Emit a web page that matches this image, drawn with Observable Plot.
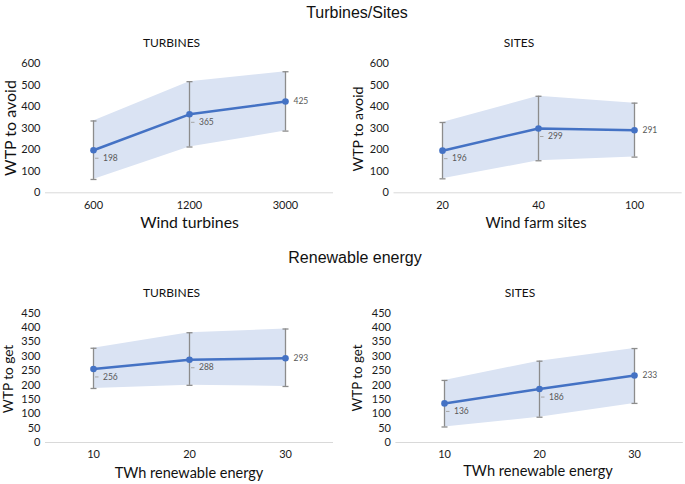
<!DOCTYPE html>
<html>
<head>
<meta charset="utf-8">
<script src="https://cdn.jsdelivr.net/npm/d3@7"></script>
<script src="https://cdn.jsdelivr.net/npm/@observablehq/plot@0.6"></script>
<style>
  html, body { margin: 0; padding: 0; background: #fff; }
  #root { position: relative; width: 685px; height: 484px; overflow: hidden; background: #fff; }
  .t { position: absolute; white-space: nowrap; line-height: 1; transform: translate(-50%, -50%); }
  .main { font-family: "Liberation Sans", Arial, sans-serif; font-size: 16px; color: #111; }
  .sub { font-family: Lato, sans-serif; font-size: 12px; color: #111; }
  .ax { font-family: Lato, sans-serif; color: #111; }
  .rot { transform: translate(-50%, -50%) rotate(-90deg); }
  .panel { position: absolute; }
</style>
</head>
<body>
<div id="root"></div>
<script>
// ---- Data ----
const turbCats = ["600", "1200", "3000"];
const turbMean = [198, 365, 425];
const turbLo = [62, 213, 287];
const turbHi = [334, 517, 563];

const sitesCats = ["20", "40", "100"];
const sitesMean = [196, 299, 291];
const sitesLo = [65, 149, 166];
const sitesHi = [327, 449, 417];

const reCats = ["10", "20", "30"];
const reTurbMean = [256, 288, 293];
const reTurbLo = [188, 199, 195];
const reTurbHi = [328, 382, 395];

const reSitesMean = [136, 186, 233];
const reSitesLo = [54, 88, 136];
const reSitesHi = [216, 283, 327];

const avoidTicks = [0, 100, 200, 300, 400, 500, 600];
const getTicks = [0, 50, 100, 150, 200, 250, 300, 350, 400, 450];

const root = document.getElementById("root");

// custom symbols: error-bar cap and label leader
const capSymbol = {draw(ctx) { ctx.moveTo(-3, 0); ctx.lineTo(3, 0); }};
const leaderSymbol = {draw(ctx) { ctx.moveTo(1.5, 0); ctx.lineTo(5, 0); }};

function addText(cls, txt, x, y, size) {
  const d = document.createElement("div");
  d.className = "t " + cls;
  d.textContent = txt;
  d.style.left = x + "px";
  d.style.top = y + "px";
  if (size) d.style.fontSize = size + "px";
  root.appendChild(d);
}

function panel(cfg) {
  const data = cfg.cats.map((c, i) => ({cat: c, v: cfg.mean[i], lo: cfg.lo[i], hi: cfg.hi[i], i}));
  const n = data.length;
  const inner = data.filter(d => d.i < n - 1);
  const last = data.filter(d => d.i === n - 1);
  const errC = "#8c8c8c";
  const chart = Plot.plot({
    width: cfg.w,
    height: cfg.h,
    marginLeft: cfg.ml,
    marginRight: cfg.mr,
    marginTop: cfg.mt,
    marginBottom: cfg.mb,
    style: {fontFamily: "Lato, sans-serif", fontSize: "11px", color: "#1a1a1a", background: "transparent", overflow: "visible"},
    x: {type: "point", domain: cfg.cats, padding: 0.5, label: null, tickSize: 0, tickPadding: cfg.xpad},
    y: {domain: [0, cfg.ymax], ticks: cfg.ticks, label: null, tickSize: 0, tickPadding: 5},
    marks: [
      Plot.areaY(data, {x: "cat", y1: "lo", y2: "hi", fill: "#dae3f3"}),
      Plot.ruleY([0], {stroke: "#d9d9d9", strokeWidth: 1}),
      Plot.ruleX(data, {x: "cat", y1: "lo", y2: "hi", stroke: errC, strokeWidth: 1.3}),
      Plot.dot(data, {x: "cat", y: "hi", symbol: capSymbol, r: 3, stroke: errC, strokeWidth: 1.3, fill: "none"}),
      Plot.dot(data, {x: "cat", y: "lo", symbol: capSymbol, r: 3, stroke: errC, strokeWidth: 1.3, fill: "none"}),
      Plot.line(data, {x: "cat", y: "v", stroke: "#4472c4", strokeWidth: 2.5}),
      Plot.dot(data, {x: "cat", y: "v", r: 3.3, fill: "#4472c4"}),
      Plot.dot(inner, {x: "cat", y: "v", dy: 8, symbol: leaderSymbol, r: 3, stroke: "#a6a6a6", strokeWidth: 1, fill: "none"}),
      Plot.text(inner, {x: "cat", y: "v", text: d => String(d.v), dx: 9.5, dy: 8, textAnchor: "start", fontSize: 8.5, fill: "#595959"}),
      Plot.text(last, {x: "cat", y: "v", text: d => String(d.v), dx: 8, textAnchor: "start", fontSize: 8.5, fill: "#595959"})
    ]
  });
  chart.classList.add("panel");
  chart.style.left = cfg.left + "px";
  chart.style.top = cfg.top + "px";
  root.appendChild(chart);
}

// Top-left: turbines
panel({cats: turbCats, mean: turbMean, lo: turbLo, hi: turbHi, ymax: 600, ticks: avoidTicks,
  left: 0, top: 40, w: 340, h: 180, ml: 45, mr: 7, mt: 23.3, mb: 27.7, xpad: 8.5});
// Top-right: sites
panel({cats: sitesCats, mean: sitesMean, lo: sitesLo, hi: sitesHi, ymax: 600, ticks: avoidTicks,
  left: 340, top: 40, w: 345, h: 180, ml: 53.5, mr: 3.3, mt: 23.3, mb: 27.7, xpad: 8});
// Bottom-left: renewable, turbines
panel({cats: reCats, mean: reTurbMean, lo: reTurbLo, hi: reTurbHi, ymax: 450, ticks: getTicks,
  left: 0, top: 290, w: 340, h: 180, ml: 45, mr: 7, mt: 22.7, mb: 28, xpad: 7.5});
// Bottom-right: renewable, sites
panel({cats: reCats, mean: reSitesMean, lo: reSitesLo, hi: reSitesHi, ymax: 450, ticks: getTicks,
  left: 340, top: 290, w: 345, h: 180, ml: 55.4, mr: 2.2, mt: 22.7, mb: 28, xpad: 7.5});

// Titles
addText("main", "Turbines/Sites", 357, 13);
addText("main", "Renewable energy", 355, 258);
addText("sub", "TURBINES", 171.5, 43);
addText("sub", "SITES", 519, 43);
addText("sub", "TURBINES", 171.5, 293);
addText("sub", "SITES", 520, 293);

// Axis titles
addText("ax", "Wind turbines", 189.5, 221.5, 15.8);
addText("ax", "Wind farm sites", 536, 223, 14.6);
addText("ax", "TWh renewable energy", 189, 472.5, 14.5);
addText("ax", "TWh renewable energy", 538, 471, 14.6);
addText("ax rot", "WTP to avoid", 9.5, 128, 16);
addText("ax rot", "WTP to avoid", 358, 129, 14.2);
addText("ax rot", "WTP to get", 8.5, 379, 13.6);
addText("ax rot", "WTP to get", 358, 378, 13.3);
</script>
</body>
</html>
